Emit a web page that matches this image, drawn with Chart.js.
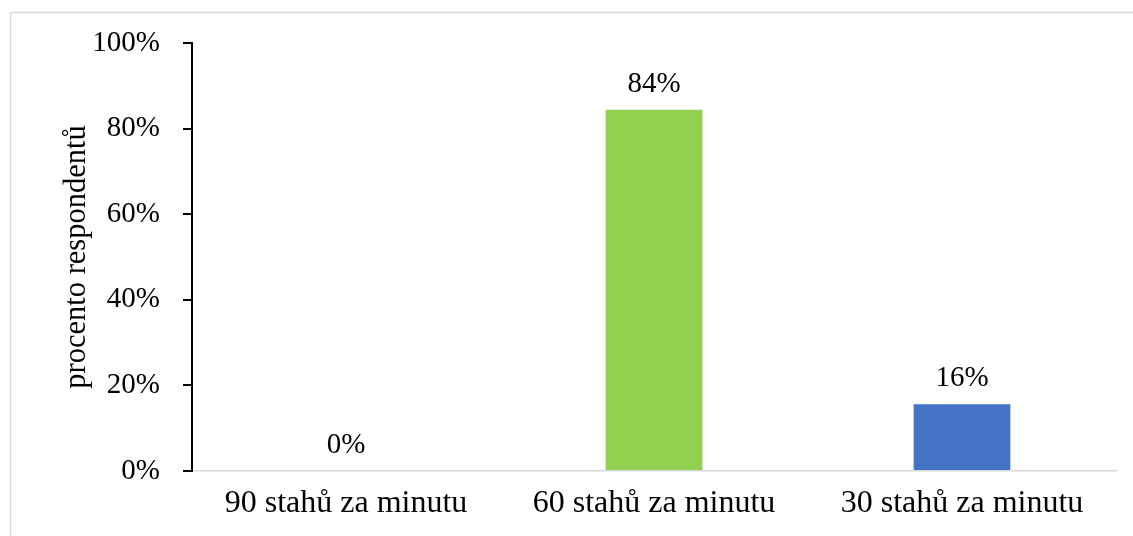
<!DOCTYPE html>
<html>
<head>
<meta charset="utf-8">
<script src="https://cdn.jsdelivr.net/npm/chart.js@4/dist/chart.umd.min.js"></script>
<style>
  html, body { margin: 0; padding: 0; background: #ffffff; }
  #wrap { width: 1133px; height: 536px; position: relative; overflow: hidden; }
</style>
</head>
<body>
<div id="wrap"><canvas id="c" width="1133" height="536"></canvas></div>
<script>
const categories = ["90 stahů za minutu", "60 stahů za minutu", "30 stahů za minutu"];
const values = [0, 84.4, 15.6];
const barColors = ["#92D050", "#92D050", "#4472C4"];
const yTicks = [0, 20, 40, 60, 80, 100];
const yTitle = "procento respondentů";

const FONT = "'Liberation Serif', 'Times New Roman', serif";

const framePlugin = {
  id: 'frame',
  beforeDraw(chart) {
    const ctx = chart.ctx;
    ctx.save();
    ctx.fillStyle = '#ffffff';
    ctx.fillRect(0, 0, chart.width, chart.height);
    ctx.strokeStyle = '#d9d9d9';
    ctx.lineWidth = 1.5;
    ctx.strokeRect(10.5, 12.5, 3000, 3000);
    ctx.restore();
  }
};

const labelPlugin = {
  id: 'barLabels',
  afterDatasetsDraw(chart) {
    const ctx = chart.ctx;
    const meta = chart.getDatasetMeta(0);
    ctx.save();
    ctx.font = "29px " + FONT;
    ctx.fillStyle = '#000000';
    ctx.textAlign = 'center';
    ctx.textBaseline = 'alphabetic';
    meta.data.forEach((bar, i) => {
      const v = values[i];
      ctx.fillText(Math.round(v) + '%', bar.x, bar.y - 18);
    });
    ctx.restore();
  }
};

new Chart(document.getElementById('c'), {
  type: 'bar',
  data: {
    labels: categories,
    datasets: [{
      data: values,
      backgroundColor: barColors,
      borderWidth: 0,
      categoryPercentage: 1,
      barPercentage: 0.314
    }]
  },
  options: {
    responsive: false,
    animation: false,
    devicePixelRatio: 1,
    layout: { padding: { top: 43, right: 17, left: 0, bottom: 0 } },
    plugins: {
      legend: { display: false },
      tooltip: { enabled: false }
    },
    scales: {
      x: {
        grid: { display: false, drawTicks: false },
        border: { display: true, color: '#d9d9d9', width: 1.5 },
        ticks: {
          color: '#000000',
          font: { family: FONT, size: 32 },
          padding: 13,
          maxRotation: 0,
          autoSkip: false
        },
        afterFit(scale) { scale.height = 65; }
      },
      y: {
        min: 0,
        max: 100,
        afterBuildTicks(scale) { scale.ticks = yTicks.map(v => ({ value: v })); },
        grid: {
          drawOnChartArea: false,
          drawTicks: true,
          tickLength: 9,
          color: '#000000',
          lineWidth: 2
        },
        border: { display: true, color: '#000000', width: 2 },
        ticks: {
          color: '#000000',
          font: { family: FONT, size: 29 },
          padding: 23,
          callback: v => v + '%'
        },
        title: {
          display: true,
          text: yTitle,
          color: '#000000',
          font: { family: FONT, size: 30.5 },
          padding: { top: 59, bottom: 0 }
        },
        afterFit(scale) { scale.width = 192; }
      }
    }
  },
  plugins: [framePlugin, labelPlugin]
});
</script>
</body>
</html>
